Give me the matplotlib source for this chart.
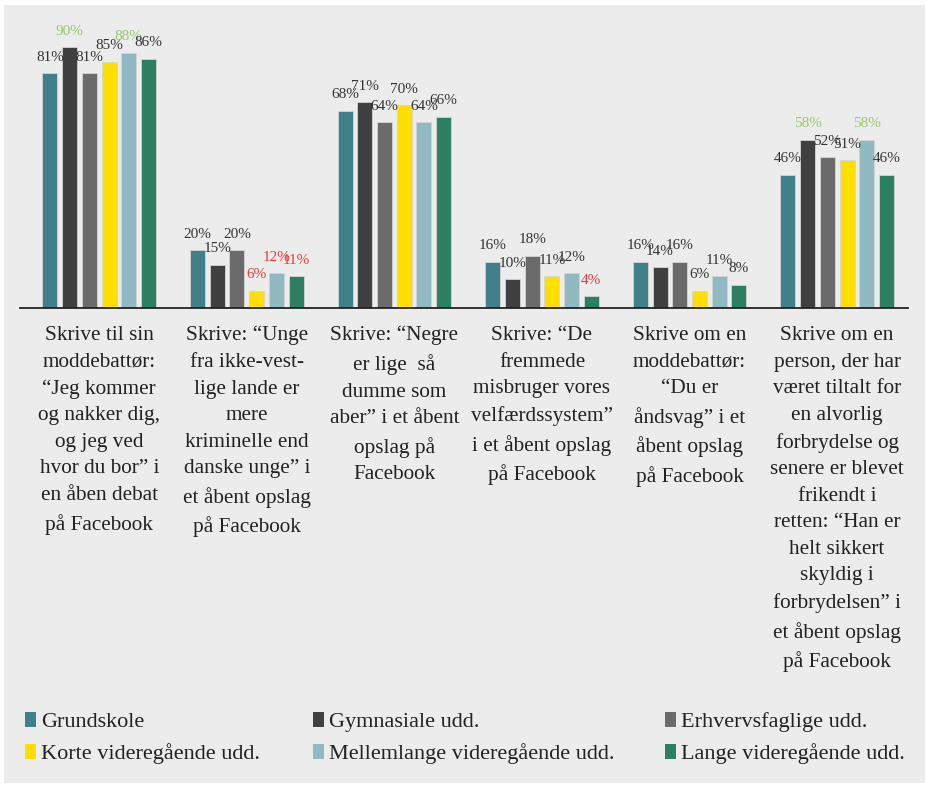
import matplotlib.pyplot as plt
from matplotlib.patches import Rectangle
import numpy as np

plt.rcParams['font.family'] = ['Liberation Serif', 'DejaVu Serif']

categories = [
    "Skrive til sin\nmoddebattør:\n“Jeg kommer\nog nakker dig,\nog jeg ved\nhvor du bor” i\nen åben debat\npå Facebook",
    "Skrive: “Unge\nfra ikke-vest-\nlige lande er\nmere\nkriminelle end\ndanske unge” i\net åbent opslag\npå Facebook",
    "Skrive: “Negre\ner lige  så\ndumme som\naber” i et åbent\nopslag på\nFacebook",
    "Skrive: “De\nfremmede\nmisbruger vores\nvelfærdssystem”\ni et åbent opslag\npå Facebook",
    "Skrive om en\nmoddebattør:\n“Du er\nåndsvag” i et\nåbent opslag\npå Facebook",
    "Skrive om en\nperson, der har\nværet tiltalt for\nen alvorlig\nforbrydelse og\nsenere er blevet\nfrikendt i\nretten: “Han er\nhelt sikkert\nskyldig i\nforbrydelsen” i\net åbent opslag\npå Facebook",
]

series = ["Grundskole", "Gymnasiale udd.", "Erhvervsfaglige udd.",
          "Korte videregående udd.", "Mellemlange videregående udd.",
          "Lange videregående udd."]

grundskole = [81, 20, 68, 16, 16, 46]
gymnasiale = [90, 15, 71, 10, 14, 58]
erhverv = [81, 20, 64, 18, 16, 52]
korte = [85, 6, 70, 11, 6, 51]
mellemlange = [88, 12, 64, 12, 11, 58]
lange = [86, 11, 66, 4, 8, 46]

# label highlight: 'hi' = green, 'lo' = red
hl_grundskole = ['', '', '', '', '', '']
hl_gymnasiale = ['hi', '', '', '', '', 'hi']
hl_erhverv = ['', '', '', '', '', '']
hl_korte = ['', 'lo', '', '', '', '']
hl_mellemlange = ['hi', 'lo', '', '', '', 'hi']
hl_lange = ['', 'lo', '', 'lo', '', '']

colors = ["#417f8a", "#404040", "#6b6b6b", "#ffdf00", "#90b9c1", "#2d7f62"]
label_colors = {'': "#333333", 'hi': "#95c96c", 'lo': "#e83a3c"}

values = [grundskole, gymnasiale, erhverv, korte, mellemlange, lange]
highlights = [hl_grundskole, hl_gymnasiale, hl_erhverv, hl_korte, hl_mellemlange, hl_lange]

W, H = 927, 785
fig = plt.figure(figsize=(W / 100, H / 100), dpi=100)
fig.patch.set_facecolor("white")
fig.patches.append(Rectangle((4 / W, 2 / H), 921 / W, 778 / H, transform=fig.transFigure,
                             facecolor="#ececec", edgecolor="none", zorder=-10))

ax = fig.add_axes([20 / W, (H - 308) / H, 888 / W, 303 / H])
ax.set_facecolor("none")

x = np.arange(len(categories))
step = 0.1335
width = 0.1016
for i, (vals, hls) in enumerate(zip(values, highlights)):
    pos = x + (i - 2.5) * step
    ax.bar(pos, vals, width, color=colors[i], edgecolor="#d4d4d4", linewidth=0.6, label=series[i])
    for p, v, h in zip(pos, vals, hls):
        ax.annotate(f"{v}%", (p, v), xytext=(0, 16), textcoords="offset pixels",
                    ha="center", va="center", fontsize=11, color=label_colors[h])

ax.set_xlim(-0.537, 5.48)
ax.set_ylim(0, 104.5)
for s in ["top", "left", "right"]:
    ax.spines[s].set_visible(False)
ax.spines["bottom"].set_color("#222222")
ax.spines["bottom"].set_linewidth(1.3)
ax.set_yticks([])
ax.set_xticks([])

for xi, cat in zip(x, categories):
    ax.annotate(cat, (xi, 0), xytext=(0, -18), textcoords="offset pixels",
                ha="center", va="top", fontsize=15.3, color="#222222", linespacing=1.54)

# legend drawn by hand: 3 columns, row-major like the original
col_x = [25, 313, 665]
row_base = [727, 759]
for i, name in enumerate(series):
    cx = col_x[i % 3]
    by = row_base[i // 3]
    fig.patches.append(Rectangle((cx / W, 1 - by / H), 11 / W, 15 / H,
                                 transform=fig.transFigure, facecolor=colors[i],
                                 edgecolor="none"))
    fig.text((cx + 16) / W, 1 - by / H, name, ha="left", va="baseline",
             fontsize=16, color="#222222")

fig.savefig("out.png", dpi=100)
